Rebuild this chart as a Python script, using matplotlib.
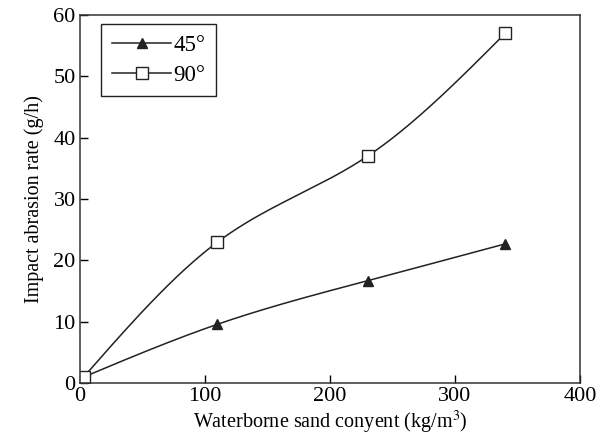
import numpy as np
import matplotlib
matplotlib.use('Agg')
from matplotlib import pyplot as plt

plt.rcParams['font.family'] = ['Liberation Serif', 'DejaVu Serif']
plt.rcParams['mathtext.fontset'] = 'stix'

# data
sand = [3, 110, 230, 340]
rate_45 = [1.0, 9.6, 16.7, 22.7]
rate_90 = [1.0, 23.0, 37.0, 57.0]


def spline(x, y, n=200):
    # natural cubic spline, plain numpy
    x = np.asarray(x, float)
    y = np.asarray(y, float)
    k = len(x)
    h = np.diff(x)
    A = np.zeros((k, k))
    b = np.zeros(k)
    A[0, 0] = A[-1, -1] = 1
    for i in range(1, k - 1):
        A[i, i - 1] = h[i - 1]
        A[i, i] = 2 * (h[i - 1] + h[i])
        A[i, i + 1] = h[i]
        b[i] = 6 * ((y[i + 1] - y[i]) / h[i] - (y[i] - y[i - 1]) / h[i - 1])
    M = np.linalg.solve(A, b)
    xs = np.linspace(x[0], x[-1], n)
    ys = np.empty_like(xs)
    for j, t in enumerate(xs):
        i = min(np.searchsorted(x, t) - 1, k - 2)
        i = max(i, 0)
        a = x[i + 1] - t
        c = t - x[i]
        ys[j] = (M[i] * a ** 3 + M[i + 1] * c ** 3) / (6 * h[i]) \
            + (y[i] / h[i] - M[i] * h[i] / 6) * a \
            + (y[i + 1] / h[i] - M[i + 1] * h[i] / 6) * c
    return xs, ys


fig = plt.figure(figsize=(6.1, 4.44), dpi=100)
ax = fig.add_axes([0.131, 0.137, 0.82, 0.829])

for yv, mk, lab in [(rate_45, '^', '45°'), (rate_90, 's', '90°')]:
    ms = 8.5 if mk == 's' else 7.5
    fc = '#222222' if mk == '^' else 'white'
    xs, ys = spline(sand, yv)
    ax.plot(xs, ys, color='#222222', lw=1.1)
    ax.plot(sand, yv, linestyle='none', marker=mk, ms=ms,
            mfc=fc, mec='#222222', mew=1.0)
    ax.plot([], [], color='#222222', lw=1.1, marker=mk, ms=ms,
            mfc=fc, mec='#222222', label=lab)

ax.set_xlim(0, 400)
ax.set_ylim(0, 60)
ax.set_xticks([0, 100, 200, 300, 400])
ax.set_yticks([0, 10, 20, 30, 40, 50, 60])
ax.tick_params(direction='in', labelsize=16, length=6, width=1, pad=3)
for s in ax.spines.values():
    s.set_linewidth(1.1)
    s.set_color('#333333')

ax.set_xlabel('Waterborne sand conyent (kg/m$^3$)', fontsize=14.5, labelpad=2)
ax.set_ylabel('Impact abrasion rate (g/h)', fontsize=14.5, labelpad=7)

leg = ax.legend(loc='upper left', bbox_to_anchor=(0.043, 0.975), fontsize=16.5,
                fancybox=False, edgecolor='#222222', framealpha=1,
                handlelength=2.6, handletextpad=0.1, borderpad=0.45,
                labelspacing=0.4, borderaxespad=0)
leg.get_frame().set_linewidth(1.0)

plt.savefig('out.png', dpi=100)
